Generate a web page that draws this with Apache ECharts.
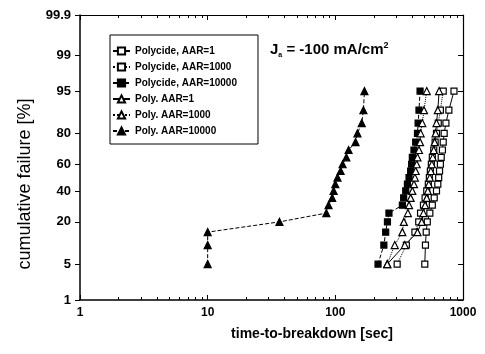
<!DOCTYPE html>
<html>
<head>
<meta charset="utf-8">
<script src="https://cdn.jsdelivr.net/npm/echarts@6/dist/echarts.min.js"></script>
<style>html,body{margin:0;padding:0;background:#fff}#c{width:485px;height:354px}</style>
</head>
<body>
<div id="c"></div>
<script>
// cumulative failure levels (%) shared by all series
const pct = [5,10,15,20,25,30,35,40,45,50,55,60,65,70,75,80,85,90,95];
// time-to-breakdown [sec]
const polycideAAR1     = [502,508,515,525,550,575,595,620,635,645,655,665,675,690,700,712,735,775,850];
const polycideAAR1000  = [305,360,420,450,465,490,505,520,535,545,555,565,575,590,605,620,640,665,700];
const polycideAAR10000 = [216,240,248,256,263,335,343,356,367,378,389,396,401,413,426,440,445,452,461];
const polyAAR1         = [255,350,440,475,490,505,520,530,540,550,560,570,580,590,600,610,620,635,650];
const polyAAR1000      = [255,292,335,344,370,378,389,401,413,420,426,434,440,452,461,466,480,495,520];
const polyAAR10000     = [10,10,10,36.5,85,88.5,94.5,97,100,104,110,114,122,127,144,149,161,166,169];
const seriesNames = ['Polycide, AAR=1','Polycide, AAR=1000','Polycide, AAR=10000','Poly. AAR=1','Poly. AAR=1000','Poly. AAR=10000'];
const yTickLabels = ['1','5','20','40','60','80','95','99','99.9'];
const xMinorTicks = [2,3,4,5,6,7,8,9,20,30,40,50,60,70,80,90,200,300,400,500,600,700,800,900];
const xMajorTicks = [1,10,100,1000];

function probit(p){
  const a=[-3.969683028665376e+01,2.209460984245205e+02,-2.759285104469687e+02,1.383577518672690e+02,-3.066479806614716e+01,2.506628277459239e+00];
  const b=[-5.447609879822406e+01,1.615858368580409e+02,-1.556989798598866e+02,6.680131188771972e+01,-1.328068155288572e+01];
  const c=[-7.784894002430293e-03,-3.223964580411365e-01,-2.400758277161838e+00,-2.549732539343734e+00,4.374664141464968e+00,2.938163982698783e+00];
  const d=[7.784695709041462e-03,3.224671290700398e-01,2.445134137142996e+00,3.754408661907416e+00];
  const pl=0.02425, ph=1-pl; let q,r;
  if(p<pl){q=Math.sqrt(-2*Math.log(p));return (((((c[0]*q+c[1])*q+c[2])*q+c[3])*q+c[4])*q+c[5])/((((d[0]*q+d[1])*q+d[2])*q+d[3])*q+1);}
  if(p<=ph){q=p-0.5;r=q*q;return (((((a[0]*r+a[1])*r+a[2])*r+a[3])*r+a[4])*r+a[5])*q/(((((b[0]*r+b[1])*r+b[2])*r+b[3])*r+b[4])*r+1);}
  q=Math.sqrt(-2*Math.log(1-p));return -(((((c[0]*q+c[1])*q+c[2])*q+c[3])*q+c[4])*q+c[5])/((((d[0]*q+d[1])*q+d[2])*q+d[3])*q+1);
}
const yTickZ = yTickLabels.map(s => probit(parseFloat(s)/100));
const zMin = yTickZ[0], zMax = yTickZ[yTickZ.length-1];
function zLabel(v){ for(let i=0;i<yTickZ.length;i++){ if(Math.abs(yTickZ[i]-v)<1e-6) return yTickLabels[i]; } return ''; }

const FONT = 'Liberation Sans, Arial, sans-serif';
const chart = echarts.init(document.getElementById('c'), null, {renderer:'canvas'});

const styles = [
  {symbol:'rect', fill:'#fff', line:'solid', size:6},
  {symbol:'rect', fill:'#fff', line:'dotted', size:6},
  {symbol:'rect', fill:'#000', line:[4,2], size:6},
  {symbol:'triangle', fill:'#fff', line:'solid', size:7},
  {symbol:'triangle', fill:'#fff', line:'dotted', size:7},
  {symbol:'triangle', fill:'#000', line:[4,2], size:7}
];
const allData = [polycideAAR1, polycideAAR1000, polycideAAR10000, polyAAR1, polyAAR1000, polyAAR10000];

const series = allData.map((arr, k) => ({
  name: seriesNames[k], type: 'line', xAxisIndex: 0, yAxisIndex: 0,
  data: arr.map((t,i) => [t, probit(pct[i]/100)]),
  symbol: styles[k].symbol, symbolSize: styles[k].size, showSymbol: true,
  lineStyle: {color:'#000', width:1, type: styles[k].line},
  itemStyle: {color: styles[k].fill, borderColor:'#000', borderWidth:1.2},
  emphasis: {disabled:true}, animation:false, z: 3
}));

const tickLine = {color:'#000', width:1};
chart.setOption({
  animation:false,
  backgroundColor:'#fff',
  grid:{left:80, right:22, top:15, bottom:54, containLabel:false},
  legend:{
    orient:'vertical', left:110, top:35,
    data: seriesNames,
    itemWidth:17, itemHeight:9, itemGap:6,
    padding:[11,21,8,2],
    borderColor:'#000', borderWidth:1, backgroundColor:'#fff',
    textStyle:{fontFamily:FONT, fontSize:10, fontWeight:'bold', color:'#000'},
    selectedMode:false
  },
  xAxis:[
    {type:'log', logBase:10, min:1, max:1000, interval:1, position:'bottom',
      axisLine:{show:true, onZero:false, lineStyle:{color:'#000', width:1.5}},
      axisTick:{show:true, inside:true, length:5, lineStyle:tickLine},
      axisLabel:{show:true, margin:7, formatter: v => String(Math.round(v)), fontFamily:FONT, fontSize:12, fontWeight:'bold', color:'#000'},
      splitLine:{show:false}, minorTick:{show:false}},
    {type:'value', min:0, max:3, position:'bottom',
      axisLine:{show:false, onZero:false},
      axisTick:{show:true, inside:true, length:3, customValues: xMinorTicks.map(v=>Math.log10(v)), lineStyle:tickLine},
      axisLabel:{show:false}, splitLine:{show:false}},
    {type:'value', min:0, max:3, position:'top',
      axisLine:{show:true, onZero:false, lineStyle:{color:'#000', width:1.2}},
      axisTick:{show:true, inside:true, length:5, customValues: xMajorTicks.map(v=>Math.log10(v)), lineStyle:tickLine},
      axisLabel:{show:false}, splitLine:{show:false}},
    {type:'value', min:0, max:3, position:'top',
      axisLine:{show:false, onZero:false},
      axisTick:{show:true, inside:true, length:3, customValues: xMinorTicks.map(v=>Math.log10(v)), lineStyle:tickLine},
      axisLabel:{show:false}, splitLine:{show:false}}
  ],
  yAxis:[
    {type:'value', min:zMin, max:zMax, position:'left',
      axisLine:{show:true, onZero:false, lineStyle:{color:'#000', width:1.5}},
      axisTick:{show:true, inside:false, length:5, customValues: yTickZ, lineStyle:tickLine},
      axisLabel:{show:true, margin:9, customValues: yTickZ, formatter: v => zLabel(v),
        fontFamily:FONT, fontSize:13, fontWeight:'bold', color:'#000'},
      splitLine:{show:false}},
    {type:'value', min:zMin, max:zMax, position:'right',
      axisLine:{show:true, onZero:false, lineStyle:{color:'#000', width:1.2}},
      axisTick:{show:true, inside:true, length:5, customValues: yTickZ, lineStyle:tickLine},
      axisLabel:{show:false}, splitLine:{show:false}}
  ],
  graphic:[
    {type:'text', x:25, y:184, rotation:Math.PI/2,
      style:{text:'cumulative failure [%]', fontFamily:FONT, fontSize:18, fill:'#000', align:'center', verticalAlign:'middle'}},
    {type:'text', x:312, y:334,
      style:{text:'time-to-breakdown [sec]', fontFamily:FONT, fontSize:14, fontWeight:'bold', fill:'#000', align:'center', verticalAlign:'middle'}},
    {type:'text', x:270, y:50,
      style:{text:'{j|J}{s|a}{t| = -100 mA/cm}{p|2}',
        verticalAlign:'middle', align:'left',
        rich:{
          j:{fontFamily:FONT, fontSize:15, fontWeight:'bold', fill:'#000'},
          s:{fontFamily:FONT, fontSize:7, fontWeight:'bold', fill:'#000', padding:[11,0,0,0]},
          t:{fontFamily:FONT, fontSize:15, fontWeight:'bold', fill:'#000'},
          p:{fontFamily:FONT, fontSize:9, fontWeight:'bold', fill:'#000', padding:[0,0,9,0]}
        }}}
  ],
  series: series
});
</script>
</body>
</html>
